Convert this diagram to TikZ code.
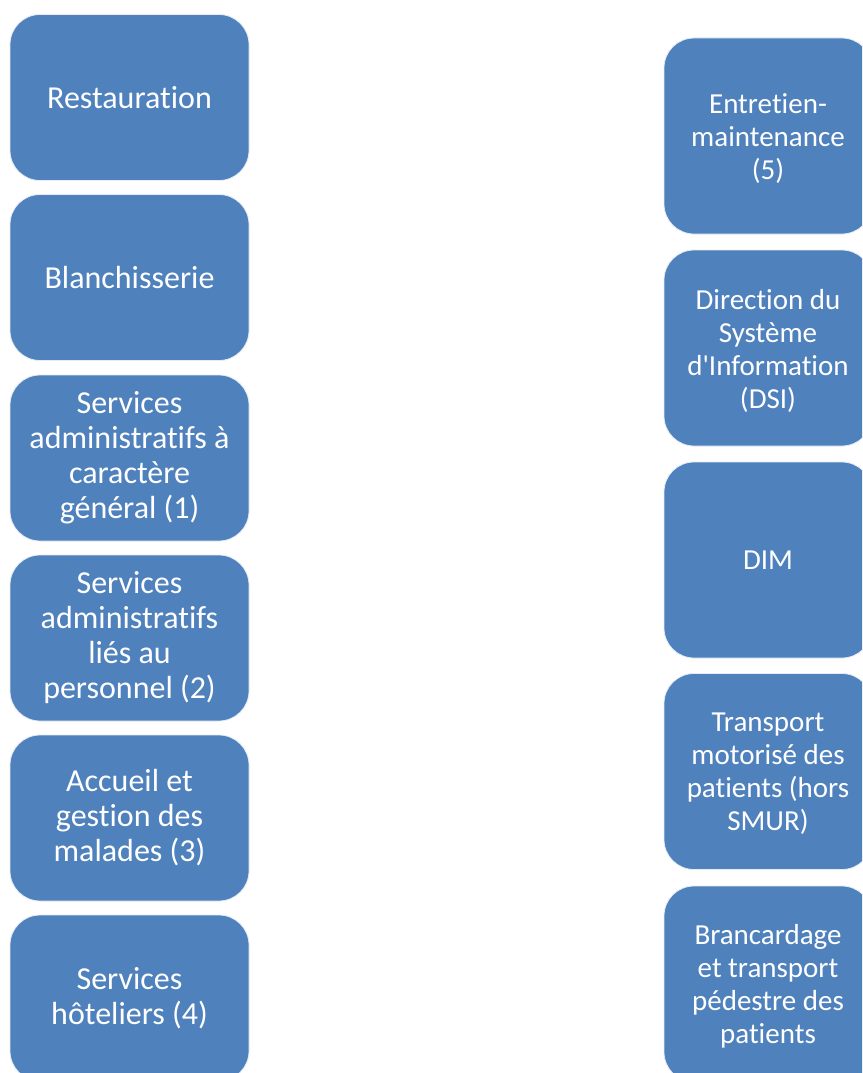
\documentclass[tikz,border=0pt]{standalone}
\usepackage{fontspec}
\setmainfont{Carlito}[Ligatures={NoCommon},RawFeature={-calt}]
\definecolor{boxblue}{HTML}{4F81BD}
\begin{document}
\begin{tikzpicture}[x=1pt,y=-1pt,
  leftbox/.style={rectangle, rounded corners=30pt, fill=boxblue, draw=white!85!boxblue, line width=0.8pt,
    minimum width=239pt, minimum height=166pt, text=white, align=center,
    font=\fontsize{32}{35}\selectfont, inner sep=0pt},
  rightbox/.style={rectangle, rounded corners=30pt, fill=boxblue, draw=white!85!boxblue, line width=0.8pt,
    minimum width=208pt, minimum height=196pt, text=white, align=center,
    font=\fontsize{29}{33}\selectfont, inner sep=0pt}]
\useasboundingbox (0,0) rectangle (862,1073);
\clip (0,0) rectangle (862,1073);
\node[leftbox] (l1) at (129.5,97.5) {Restauration};
\node[leftbox] (l2) at (129.5,277.5) {Blanchisserie};
\node[leftbox] (l3) at (129.5,458) {Services\\administratifs à\\caractère\\général (1)};
\node[leftbox] (l4) at (129.5,638) {Services\\administratifs\\liés au\\personnel (2)};
\node[leftbox] (l5) at (129.5,818) {Accueil et\\gestion des\\malades (3)};
\node[leftbox] (l6) at (129.5,998) {Services\\hôteliers (4)};
\node[rightbox] (r1) at (768,136) {};
\node[text=white, align=center, font=\fontsize{29}{33}\selectfont, inner sep=0pt] (t1) at (768,139) {Entretien-\\maintenance\\(5)};
\node[rightbox] (r2) at (768,348) {};
\node[text=white, align=center, font=\fontsize{29}{33}\selectfont, inner sep=0pt] (t2) at (768,350.5) {Direction du\\Système\\d\textquotesingle Information\\(DSI)};
\node[rightbox] (r3) at (768,560) {DIM};
\node[rightbox] (r4) at (768,771.5) {};
\node[text=white, align=center, font=\fontsize{29}{33}\selectfont, inner sep=0pt] (t4) at (768,773.5) {Transport\\motorisé des\\patients (hors\\SMUR)};
\node[rightbox] (r5) at (768,984) {};
\node[text=white, align=center, font=\fontsize{29}{33}\selectfont, inner sep=0pt] (t5) at (768,986.5) {Brancardage\\et transport\\pédestre des\\patients};
\end{tikzpicture}
\end{document}
